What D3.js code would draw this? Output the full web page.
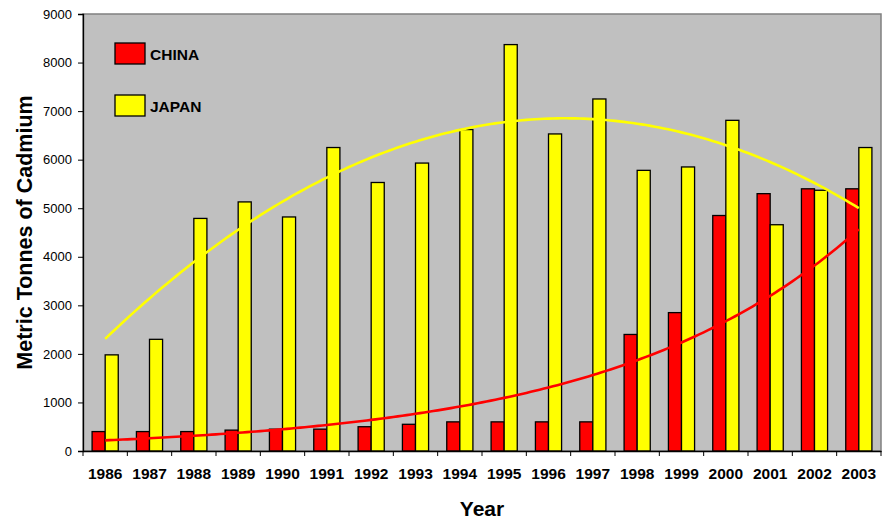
<!DOCTYPE html>
<html>
<head>
<meta charset="utf-8">
<script src="https://cdn.jsdelivr.net/npm/d3@7"></script>
<style>
  html, body { margin: 0; padding: 0; background: #fff; }
  svg { display: block; font-family: "Liberation Sans", Arial, sans-serif; }
</style>
</head>
<body>
<svg id="chart" width="882" height="522"></svg>
<script>
// Cadmium production, metric tonnes
const years = ["1986","1987","1988","1989","1990","1991","1992","1993","1994",
               "1995","1996","1997","1998","1999","2000","2001","2002","2003"];
const china = [400, 400, 400, 430, 450, 450, 500, 550, 600,
               600, 600, 600, 2400, 2850, 4850, 5300, 5400, 5400];
const japan = [1980, 2300, 4790, 5130, 4820, 6250, 5530, 5930, 6620,
               8370, 6530, 7250, 5780, 5850, 6810, 4660, 5370, 6250];
const yTicks = [0, 1000, 2000, 3000, 4000, 5000, 6000, 7000, 8000, 9000];
const seriesNames = ["CHINA", "JAPAN"];
const seriesColors = ["#ff0000", "#ffff00"];

const svg = d3.select("#chart");
const plot = { left: 83, top: 14, right: 881, bottom: 451 };

const x = d3.scaleBand().domain(years).range([plot.left, plot.right]);
const y = d3.scaleLinear().domain([0, 9000]).range([plot.bottom, plot.top]);
const barW = x.bandwidth() * 0.295;

// plot area
svg.append("rect")
  .attr("x", plot.left).attr("y", plot.top)
  .attr("width", plot.right - plot.left).attr("height", plot.bottom - plot.top)
  .attr("fill", "#c0c0c0").attr("stroke", "#808080").attr("stroke-width", 1.5);

// bars
const groups = [china, japan];
groups.forEach((vals, si) => {
  svg.append("g").selectAll("rect").data(vals).join("rect")
    .attr("x", (d, i) => x(years[i]) + x.bandwidth() / 2 + (si === 0 ? -barW : 0))
    .attr("y", d => y(d))
    .attr("width", barW)
    .attr("height", d => y(0) - y(d))
    .attr("fill", seriesColors[si])
    .attr("stroke", "#000").attr("stroke-width", 1.3);
});

// least-squares trend lines (quadratic for Japan, exponential for China)
const idx = years.map((_, i) => i + 1);
function polyFit2(xs, ys) {
  let s = [0,0,0,0,0], t = [0,0,0];
  xs.forEach((xv, i) => {
    for (let k = 0; k < 5; k++) s[k] += Math.pow(xv, k);
    for (let k = 0; k < 3; k++) t[k] += Math.pow(xv, k) * ys[i];
  });
  const A = [[s[0], s[1], s[2], t[0]], [s[1], s[2], s[3], t[1]], [s[2], s[3], s[4], t[2]]];
  for (let c = 0; c < 3; c++) {
    for (let r = c + 1; r < 3; r++) {
      const f = A[r][c] / A[c][c];
      for (let k = c; k < 4; k++) A[r][k] -= f * A[c][k];
    }
  }
  const b = [0, 0, 0];
  for (let r = 2; r >= 0; r--) {
    let v = A[r][3];
    for (let k = r + 1; k < 3; k++) v -= A[r][k] * b[k];
    b[r] = v / A[r][r];
  }
  return xv => b[0] + b[1] * xv + b[2] * xv * xv;
}
function expFit(xs, ys) {
  const ly = ys.map(Math.log);
  const mx = d3.mean(xs), my = d3.mean(ly);
  const slope = d3.sum(xs, (xv, i) => (xv - mx) * (ly[i] - my)) / d3.sum(xs, xv => (xv - mx) ** 2);
  const inter = my - slope * mx;
  return xv => Math.exp(inter + slope * xv);
}
const trends = [expFit(idx, china), polyFit2(idx, japan)];
const step = x.step();
const xPos = xv => x(years[0]) + x.bandwidth() / 2 + (xv - 1) * step;
const samples = d3.range(1, years.length + 0.001, 0.1);
const line = d3.line().x(d => xPos(d[0])).y(d => y(d[1]));
[1, 0].forEach(si => {
  svg.append("path")
    .datum(samples.map(s => [s, trends[si](s)]))
    .attr("d", line)
    .attr("fill", "none")
    .attr("stroke", seriesColors[si])
    .attr("stroke-width", 2.6);
});

// axes
const yAxis = d3.axisLeft(y).tickValues(yTicks).tickSize(5).tickPadding(6).tickFormat(d3.format("d"));
const gy = svg.append("g").attr("transform", `translate(${plot.left},0)`).call(yAxis);
gy.select(".domain").attr("stroke", "#000").attr("stroke-width", 1.3);
gy.selectAll(".tick line").attr("stroke", "#000");
gy.selectAll(".tick text").attr("font-size", 13).attr("fill", "#000")
  .attr("font-family", "Liberation Sans, Arial, sans-serif");

const xAxis = d3.axisBottom(x).tickSize(0).tickPadding(17);
const gx = svg.append("g").attr("transform", `translate(0,${plot.bottom})`).call(xAxis);
gx.select(".domain").attr("stroke", "#000").attr("stroke-width", 1.3);
gx.selectAll(".tick text").attr("font-size", 15.5).attr("font-weight", "bold").attr("fill", "#000")
  .attr("font-family", "Liberation Sans, Arial, sans-serif");
// category separators below the axis
svg.append("g").selectAll("line").data(d3.range(years.length + 1)).join("line")
  .attr("x1", i => plot.left + i * step)
  .attr("x2", i => plot.left + i * step)
  .attr("y1", plot.bottom).attr("y2", plot.bottom + 5)
  .attr("stroke", "#000").attr("stroke-width", 1);

// axis titles
svg.append("text")
  .attr("transform", `translate(32,${(plot.top + plot.bottom) / 2}) rotate(-90)`)
  .attr("text-anchor", "middle")
  .attr("font-size", 21.5).attr("font-weight", "bold")
  .text("Metric Tonnes of Cadmium");
svg.append("text")
  .attr("x", 482).attr("y", 515.5)
  .attr("text-anchor", "middle")
  .attr("font-size", 21).attr("font-weight", "bold")
  .text("Year");

// legend
const legend = svg.append("g");
seriesNames.forEach((name, i) => {
  const ly = 43 + i * 52;
  legend.append("rect")
    .attr("x", 115).attr("y", ly).attr("width", 30).attr("height", 21)
    .attr("fill", seriesColors[i]).attr("stroke", "#000").attr("stroke-width", 1.3);
  legend.append("text")
    .attr("x", 150).attr("y", ly + 17)
    .attr("font-size", 15.5).attr("font-weight", "bold")
    .text(name);
});
</script>
</body>
</html>
